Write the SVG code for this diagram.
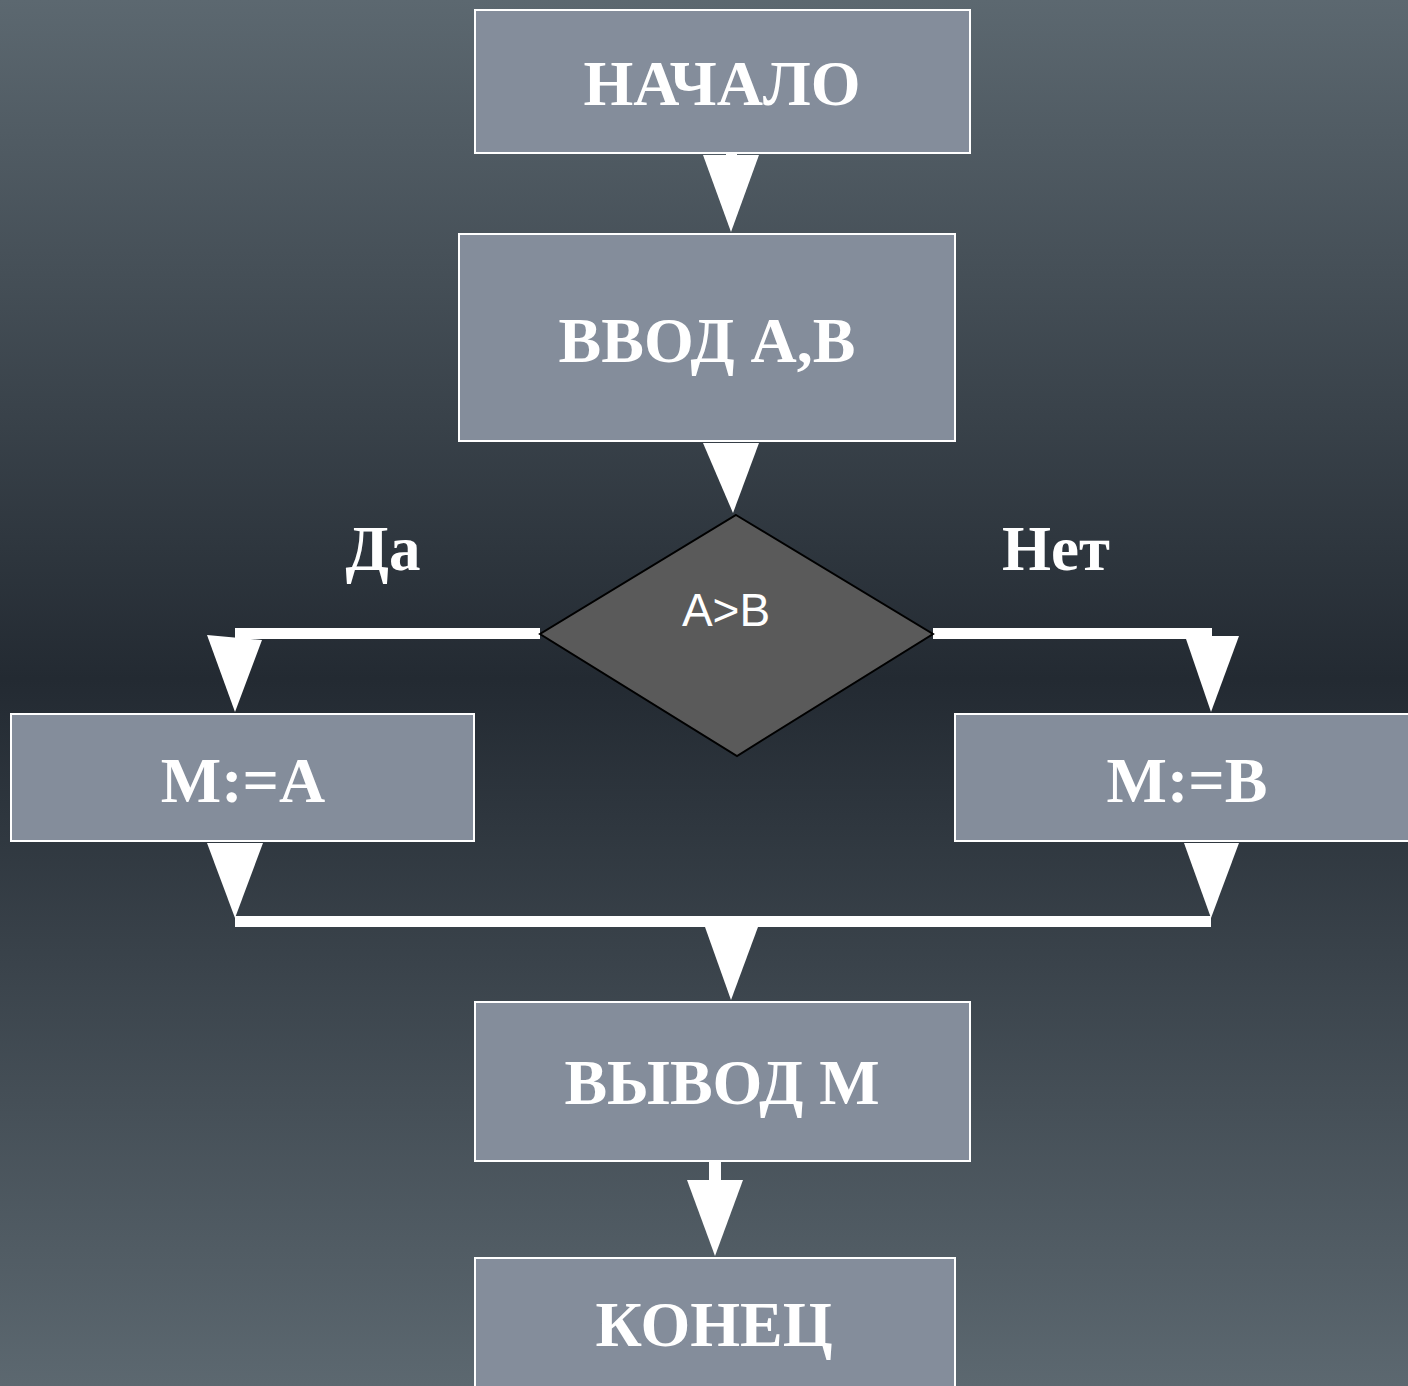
<svg xmlns="http://www.w3.org/2000/svg" width="1408" height="1386" viewBox="0 0 1408 1386">
<defs>
<linearGradient id="bg" x1="0" y1="0" x2="0" y2="1">
<stop offset="0" stop-color="#5c6870"/>
<stop offset="0.49" stop-color="#232a32"/>
<stop offset="1" stop-color="#5c6870"/>
</linearGradient>
<style>
.box{fill:#848d9b;stroke:#ffffff;stroke-width:2}
.t{font-family:"Liberation Serif","Times New Roman",serif;font-weight:bold;fill:#ffffff;text-anchor:middle;font-size:64px}
.l{font-size:63px}
.c{fill:#ffffff;stroke:none}
</style>
</defs>
<rect x="0" y="0" width="1408" height="1386" fill="url(#bg)"/>
<g id="connectors">
<rect class="c" x="726" y="153" width="11" height="4"/>
<polygon class="c" points="703,155 759,155 731,232"/>
<polygon class="c" points="703,443 759,443 733,513"/>
<rect class="c" x="235" y="628" width="305" height="11"/>
<polygon class="c" points="207,635 262,640 235,712"/>
<rect class="c" x="933" y="628" width="279" height="11"/>
<polygon class="c" points="1185,636 1239,636 1211,712"/>
<polygon class="c" points="207,843 263,843 235,918"/>
<polygon class="c" points="1184,843 1239,843 1211,918"/>
<rect class="c" x="235" y="916" width="976" height="11"/>
<polygon class="c" points="705,927 758,927 731,1000"/>
<rect class="c" x="709" y="1161" width="12" height="20"/>
<polygon class="c" points="687,1180 743,1180 715,1256"/>
</g>
<g id="start"><rect class="box" x="475" y="10" width="495" height="143"/><text class="t" x="722" y="105">НАЧАЛО</text></g>
<g id="input"><rect class="box" x="459" y="234" width="496" height="207"/><text class="t" x="707" y="362">ВВОД А,В</text></g>
<g id="decision"><polygon points="736,515 933,634 737,756 540,634" fill="#5a5a5a" stroke="#000000" stroke-width="2"/><text x="726" y="626" font-family="Liberation Sans,Arial,sans-serif" font-size="46" fill="#ffffff" text-anchor="middle">A&gt;B</text></g>
<g id="yes-label"><text class="t l" x="383" y="570">Да</text></g>
<g id="no-label"><text class="t l" x="1056" y="570">Нет</text></g>
<g id="assignA"><rect class="box" x="11" y="714" width="463" height="127"/><text class="t" x="243" y="802">M:=A</text></g>
<g id="assignB"><rect class="box" x="955" y="714" width="460" height="127"/><text class="t" x="1187" y="802">M:=B</text></g>
<g id="output"><rect class="box" x="475" y="1002" width="495" height="159"/><text class="t" x="722" y="1104">ВЫВОД M</text></g>
<g id="end"><rect class="box" x="475" y="1258" width="480" height="135"/><text class="t" x="714" y="1346">КОНЕЦ</text></g>
</svg>
